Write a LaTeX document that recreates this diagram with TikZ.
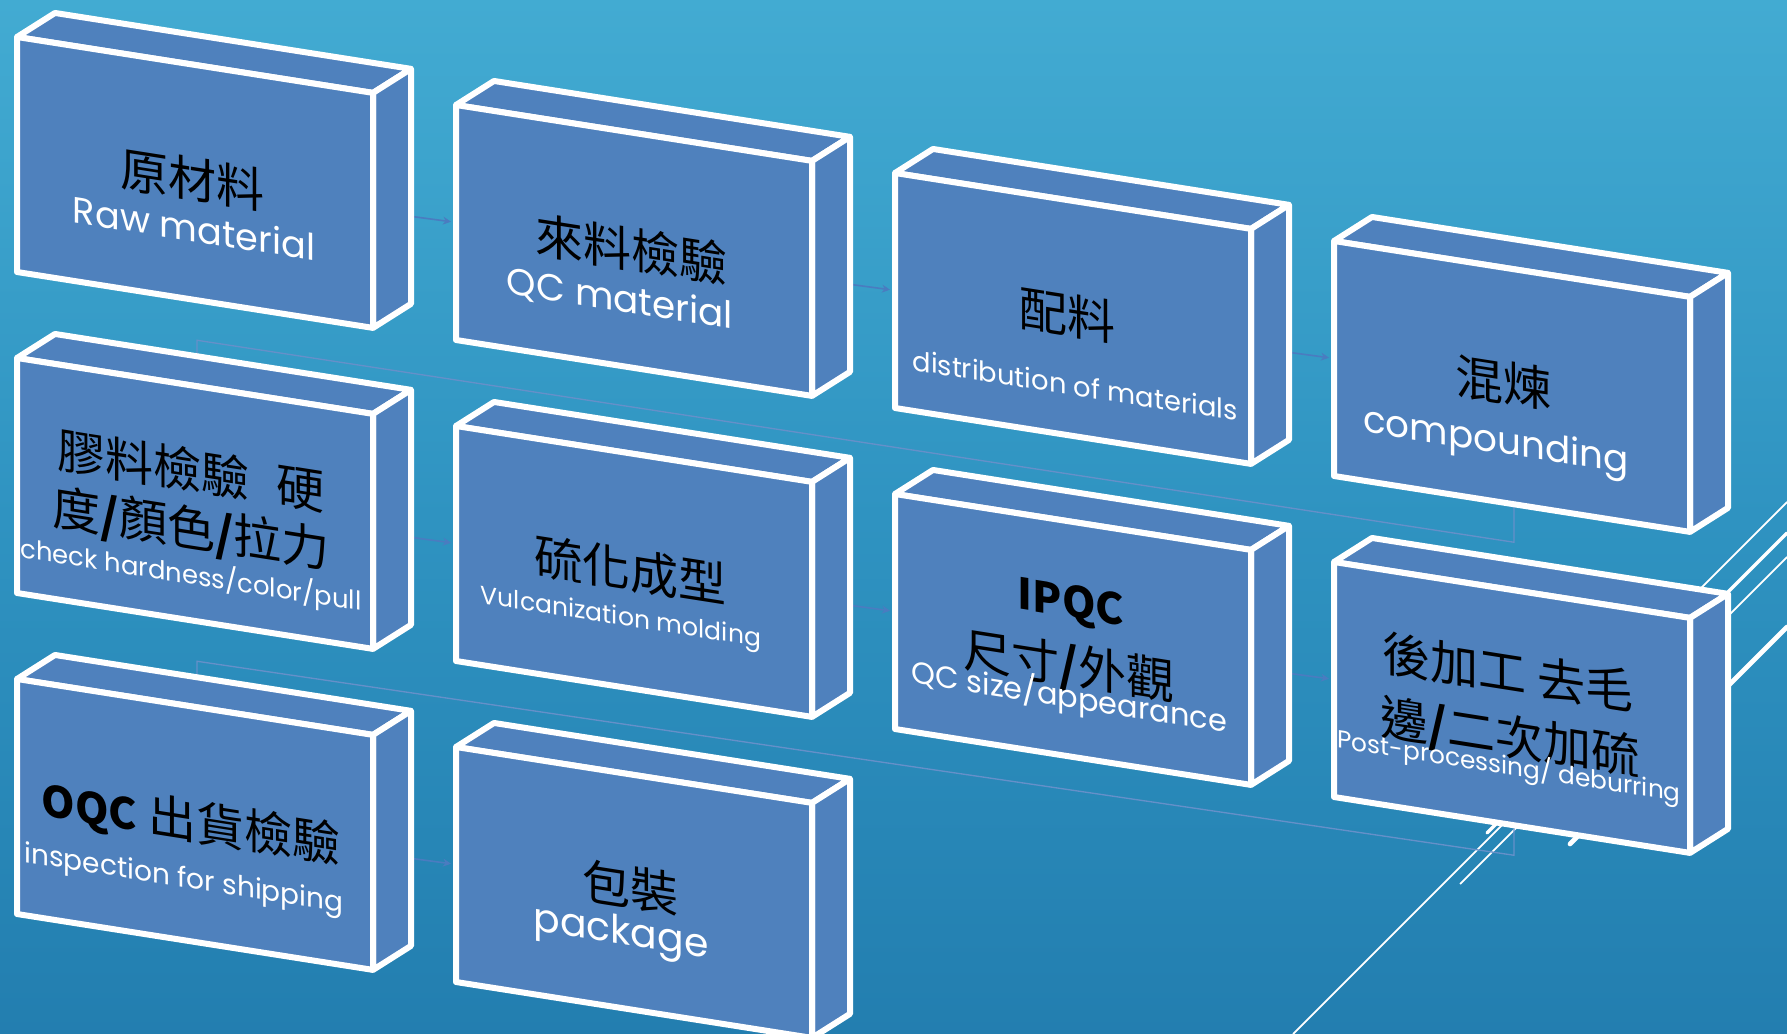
\documentclass[tikz,border=0pt]{standalone}
\usepackage{fontspec}
\usetikzlibrary{arrows.meta,calc}
\newfontfamily\zhfont{Noto Sans CJK TC}
\newfontfamily\enfont{Poppins}
\newcommand\bslash{{\bfseries/}}
\definecolor{boxblue}{HTML}{4F81BD}
\definecolor{flowblue}{HTML}{4A7CC0}
\definecolor{bgtop}{HTML}{56C3E3}
\definecolor{bgmid}{HTML}{2F93C1}
\definecolor{bgbot}{HTML}{16699E}
\pgfdeclareverticalshading{bgshade}{100bp}{color(0bp)=(bgbot); color(50bp)=(bgmid); color(100bp)=(bgtop)}
\pgfdeclarelayer{back}
\pgfsetlayers{back,main}

\tikzset{
  boxface/.style={fill=boxblue,draw=white,line width=4.5pt,line join=round},
  zhtext/.style={font=\zhfont\fontsize{36}{36}\selectfont,text=black,inner sep=0pt,transform shape},
  entext/.style={font=\enfont\fontsize{#1}{#1}\selectfont,text=white,inner sep=0pt,transform shape},
  flow/.style={draw=flowblue,line width=1.2pt,-{Stealth[length=6pt,width=6pt]}},
  elbow/.style={draw=flowblue!85,line width=1pt},
  deco/.style={draw=white,line width=1.3pt},
  decothick/.style={draw=white,line width=3.5pt,line cap=round},
}

% box with its front corner at (#2,#3); #4 = texts in box coordinates
\newcommand\procbox[4]{%
  \begin{scope}[shift={(#2,#3)},yslant=-0.157]
    \draw[boxface] (0,0) -- (38,-30) -- (394,-30) -- (356,0) -- cycle;
    \draw[boxface] (356,0) -- (394,-30) -- (394,205) -- (356,235) -- cycle;
    \draw[boxface] (0,0) rectangle (356,235);
    \coordinate (#1-w) at (-5,117.5);
    \coordinate (#1-e) at (394,117.5);
    \coordinate (#1-s) at (180,235);
    \coordinate (#1-n) at (180,-30);
    #4
  \end{scope}}

\begin{document}
\begin{tikzpicture}[x=0.75pt,y=-0.75pt]
  \useasboundingbox (0,0) rectangle (1787,1034);
  \begin{pgfonlayer}{back}
    \shade[shading=bgshade] (0,0) rectangle (1787,1034);
    \draw[deco] (1293,1034) -- (1580,747);
    \draw[deco] (1460,884) -- (1787,557);
    \draw[deco] (1560,729) -- (1787,502);
    \draw[decothick,line width=2.6pt] (1487,833) -- (1787,533);
    \draw[decothick] (1570,844) -- (1787,627);
  \end{pgfonlayer}

  % row 1
  \procbox{raw}{17}{37}{
    \node[zhtext] (raw-zh) at (175,115) {原材料};
    \node[entext=27.5] (raw-en) at (177,163) {Raw material};}
  \procbox{qcm}{456}{105}{
    \node[zhtext] (qcm-zh) at (175,117) {來料檢驗};
    \node[entext=28] (qcm-en) at (164,169) {QC material};}
  \procbox{dist}{895}{173}{
    \node[zhtext] (dist-zh) at (172,115) {配料};
    \node[entext=20.5] (dist-en) at (180,184) {distribution of materials};}
  \procbox{mix}{1334}{241}{
    \node[zhtext] (mix-zh) at (169,115) {混煉};
    \node[entext=28] (mix-en) at (162,177) {compounding};}

  % row 2
  \procbox{gel}{17}{358}{
    \node[zhtext] (gel-zh1) at (174,85) {膠料檢驗\hspace{0.55em}硬};
    \node[zhtext] (gel-zh2) at (174,145) {度\bslash 顏色\bslash 拉力};
    \node[entext=19.4] (gel-en) at (174,190) {check hardness/color/pull};}
  \procbox{vul}{456}{426}{
    \node[zhtext] (vul-zh) at (174,117) {硫化成型};
    \node[entext=18.8] (vul-en) at (165,167) {Vulcanization molding};}
  \procbox{ipqc}{895}{494}{
    \node[zhtext,font=\zhfont\bfseries\fontsize{32}{32}\selectfont] (ipqc-id) at (176,84) {IPQC};
    \node[zhtext] (ipqc-zh) at (174,146) {尺寸\bslash 外觀};
    \node[entext=22.8] (ipqc-en) at (174,176) {QC size/appearance};}
  \procbox{post}{1334}{562}{
    \node[zhtext] (post-zh1) at (174,83) {後加工 去毛};
    \node[zhtext] (post-zh2) at (176,149) {邊\bslash 二次加硫};
    \node[entext=18.6] (post-en) at (175,177) {Post-processing/ deburring};}

  % row 3
  \procbox{oqc}{17}{679}{
    \node[zhtext] (oqc-zh) at (174,117) {{\bfseries\fontsize{32}{32}\selectfont OQC} 出貨檢驗};
    \node[entext=21] (oqc-en) at (167,175) {inspection for shipping};}
  \procbox{pack}{456}{747}{
    \node[zhtext] (pack-zh) at (174,113) {包裝};
    \node[entext=29.5] (pack-en) at (165,162) {package};}

  \begin{pgfonlayer}{back}
    \draw[flow] (raw-e) -- (qcm-w);
    \draw[flow] (qcm-e) -- (dist-w);
    \draw[flow] (dist-e) -- (mix-w);
    \draw[elbow] (mix-s) -- ++(0,38) -- ($(gel-n)+(0,-16)$) -- (gel-n);
    \draw[flow] (gel-e) -- (vul-w);
    \draw[flow] (vul-e) -- (ipqc-w);
    \draw[flow] (ipqc-e) -- (post-w);
    \draw[elbow] (post-s) -- ++(0,30) -- ($(oqc-n)+(0,-16)$) -- (oqc-n);
    \draw[flow] (oqc-e) -- (pack-w);
  \end{pgfonlayer}
\end{tikzpicture}
\end{document}
